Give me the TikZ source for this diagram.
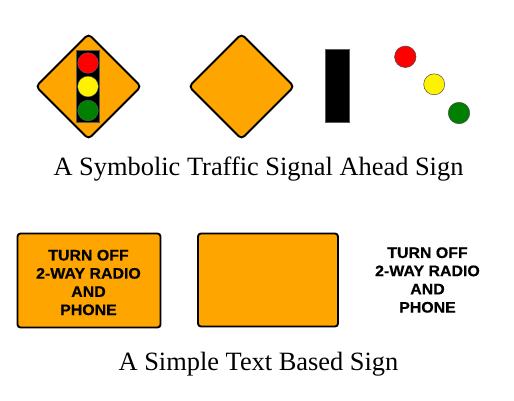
\documentclass[tikz,border=0pt]{standalone}
\usepackage{fontspec}
\setmainfont{Liberation Serif}
\newfontfamily\signfont[FakeStretch=1.04,BoldFeatures={FakeStretch=1.04,FakeBold=0.6}]{Liberation Sans}
\definecolor{signorange}{RGB}{255,165,0}
\definecolor{siggreen}{RGB}{0,128,0}
\tikzset{
  signshape/.style={draw=black,line width=1.9pt,fill=signorange,rounded corners=4pt},
  rectsign/.style={signshape,rounded corners=3pt},
  lamp/.style={draw=black!70,line width=0.5pt},
  housing/.style={fill=black,draw=black!65,line width=0.5pt},
  signtext/.style={font=\signfont\bfseries\fontsize{15.3}{18.2}\selectfont,align=center,text=black,inner sep=0pt},
  caption/.style={font=\fontsize{26.4}{30}\selectfont,text=black,inner sep=0pt}
}
\begin{document}
\begin{tikzpicture}[x=1pt,y=-1pt]
\useasboundingbox (0,0) rectangle (514,400);
% composed symbolic sign
\draw[signshape] (88.5,34) -- (141,86.5) -- (88.5,139) -- (36,86.5) -- cycle;
\draw[housing] (75.8,49.8) rectangle (99.2,122.5);
\fill[red,draw=black!60,line width=0.3pt] (88,63) circle (10.3);
\fill[yellow,draw=black!60,line width=0.3pt] (88,86.5) circle (10.3);
\fill[siggreen,draw=black!60,line width=0.3pt] (88,110.5) circle (10.3);
% parts
\draw[signshape] (241.5,34) -- (294,86.5) -- (241.5,139) -- (189,86.5) -- cycle;
\draw[housing] (325.7,49.3) rectangle (349.7,122.5);
\node[lamp,circle,fill=red,minimum size=21.5pt,inner sep=0pt] (lampR) at (405.3,56.8) {};
\node[lamp,circle,fill=yellow,minimum size=21pt,inner sep=0pt] (lampY) at (434.2,84.3) {};
\node[lamp,circle,fill=siggreen,minimum size=21.5pt,inner sep=0pt] (lampG) at (459,113) {};
\node[caption] (capA) at (258.5,169.5) {A Symbolic Traffic Signal Ahead Sign};
% text sign
\draw[rectsign] (17.5,233.5) rectangle (160.5,327.5);
\node[signtext] (textA) at (88.5,282.5) {TURN OFF\\2-WAY RADIO\\AND\\PHONE};
\draw[rectsign] (198,233.5) rectangle (338,326.5);
\node[signtext] (textB) at (427.5,280) {TURN OFF\\2-WAY RADIO\\AND\\PHONE};
\node[caption] (capB) at (258.5,364.5) {A Simple Text Based Sign};
\end{tikzpicture}
\end{document}
